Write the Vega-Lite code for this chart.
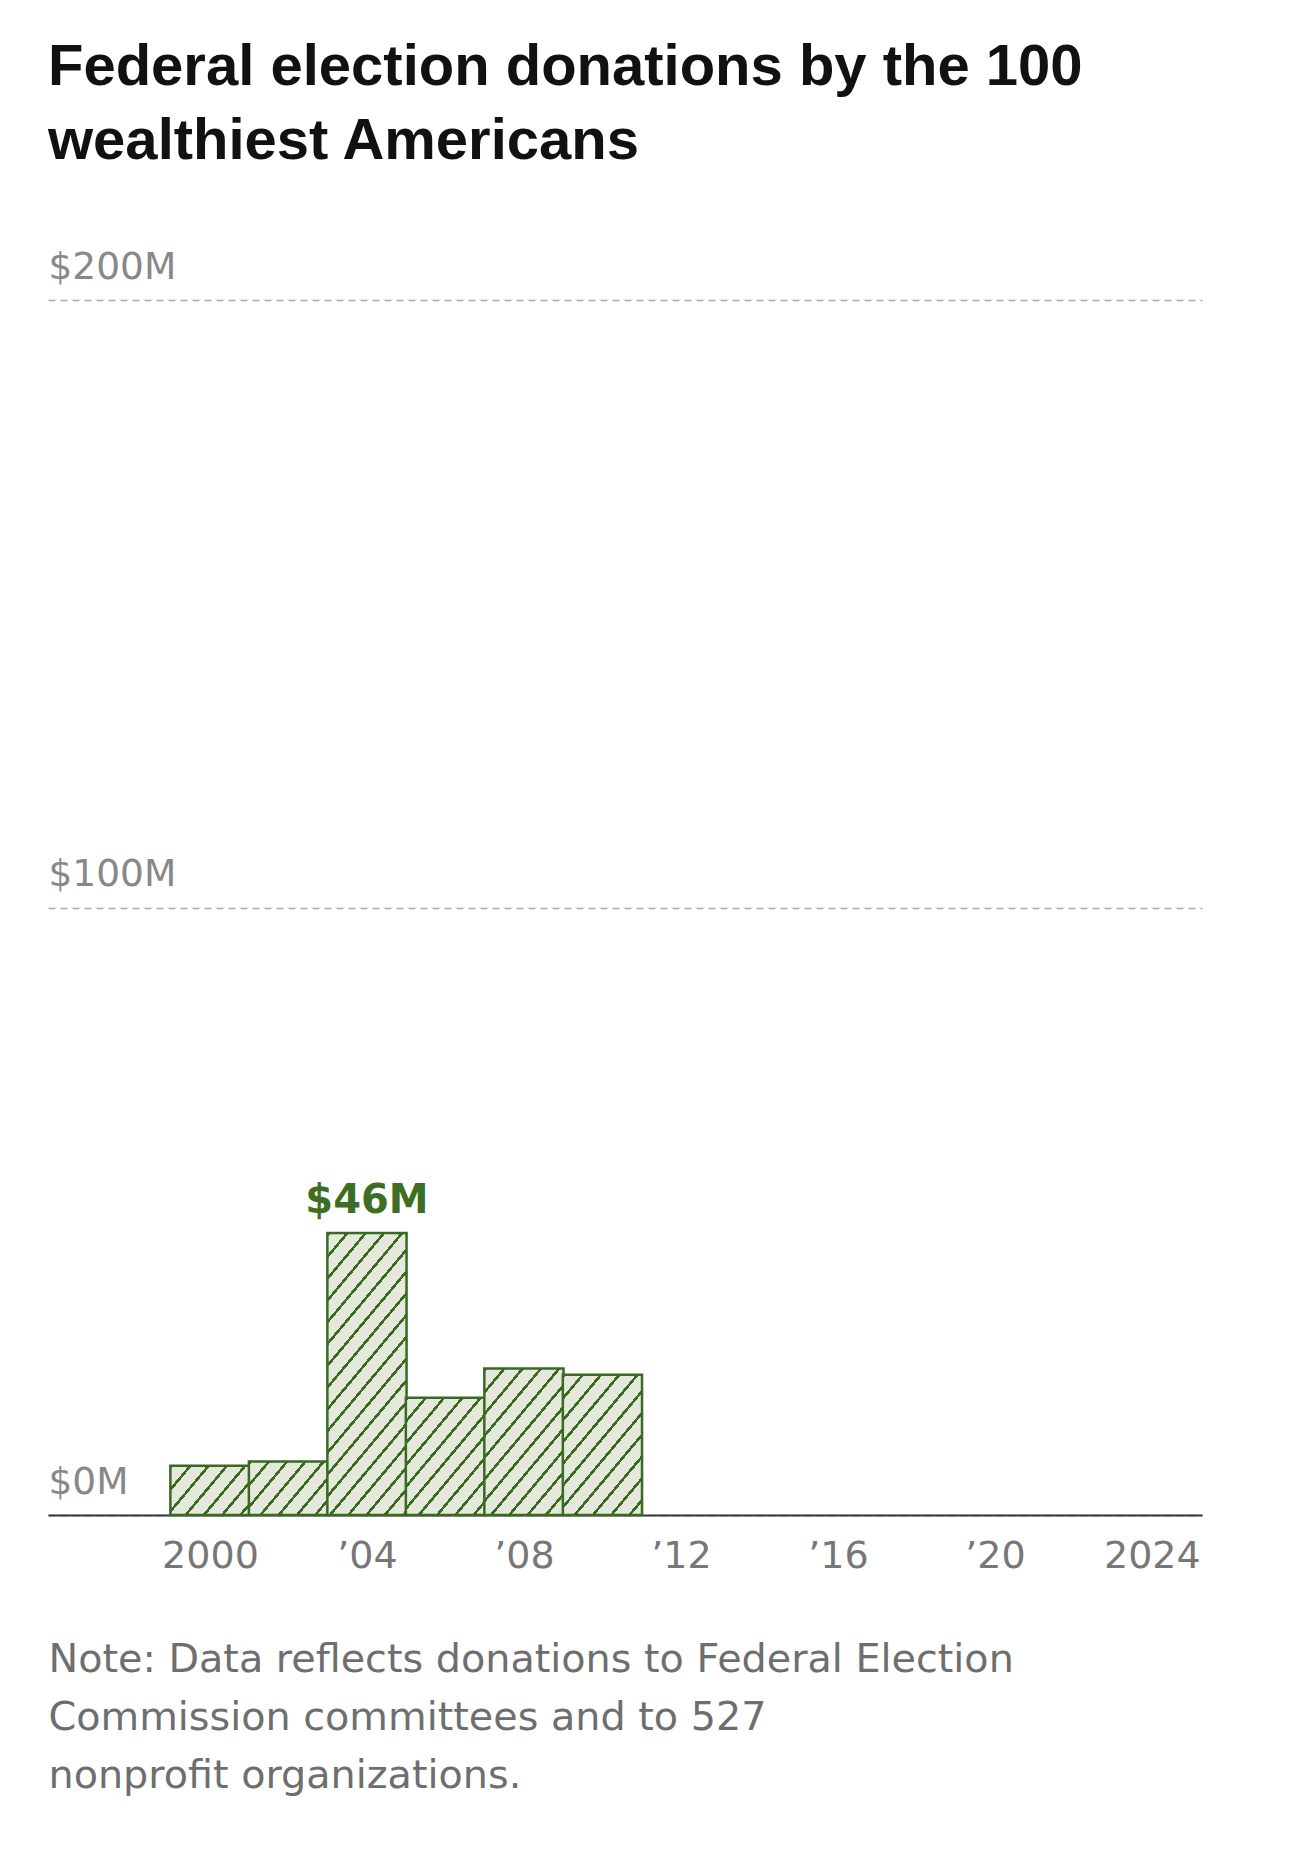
{
  "$schema": "https://vega.github.io/schema/vega-lite/v6.json",
  "width": 1154,
  "height": 1215,
  "autosize": {"type": "none"},
  "padding": {"left": 48, "top": 300, "right": 88, "bottom": 334},
  "background": "#ffffff",
  "config": {"view": {"stroke": null}, "font": "Liberation Sans"},
  "title": {
    "text": ["Federal election donations by the 100", "wealthiest Americans"],
    "anchor": "start",
    "frame": "group",
    "font": "Liberation Sans",
    "fontSize": 58,
    "fontWeight": "bold",
    "color": "#111111",
    "lineHeight": 74,
    "baseline": "alphabetic",
    "offset": 31
  },
  "data": {
    "values": [
      {"year": 2000, "value": 8.1, "label": ""},
      {"year": 2002, "value": 8.8, "label": ""},
      {"year": 2004, "value": 46.4, "label": "$46M"},
      {"year": 2006, "value": 19.3, "label": ""},
      {"year": 2008, "value": 24.1, "label": ""},
      {"year": 2010, "value": 23.1, "label": ""}
    ]
  },
  "encoding": {
    "x": {
      "field": "year",
      "type": "quantitative",
      "scale": {"domain": [1996, 2025.15], "nice": false, "zero": false},
      "axis": {
        "values": [2000, 2004, 2008, 2012, 2016, 2020, 2024],
        "labelExpr": "datum.value == 2000 || datum.value == 2024 ? '' + datum.value : '\u2019' + substring('' + datum.value, 2, 4)",
        "labelFont": "DejaVu Sans",
        "labelFontSize": 38,
        "labelColor": "#777777",
        "labelPadding": 22,
        "labelFlush": false,
        "labelOverlap": false,
        "ticks": false,
        "grid": false,
        "domainColor": "#333333",
        "domainWidth": 2,
        "title": ["Note: Data reflects donations to Federal Election", "Commission committees and to 527", "nonprofit organizations."],
        "titleFont": "DejaVu Sans",
        "titleFontSize": 39.7,
        "titleFontWeight": "normal",
        "titleColor": "#6e6e6e",
        "titleLineHeight": 58,
        "titleAnchor": "start",
        "titleAlign": "left",
        "titleBaseline": "alphabetic",
        "titleX": 0,
        "titleY": 156
      }
    },
    "y": {
      "field": "value",
      "type": "quantitative",
      "scale": {"domain": [0, 200], "nice": false},
      "axis": {
        "values": [0, 100, 200],
        "labelExpr": "'$' + datum.value + 'M'",
        "labelFont": "DejaVu Sans",
        "labelFontSize": 37.5,
        "labelColor": "#888888",
        "labelAlign": "left",
        "labelBaseline": "alphabetic",
        "labelPadding": 0,
        "labelOffset": -22,
        "labelOverlap": false,
        "ticks": false,
        "domain": false,
        "grid": true,
        "gridColor": "#aaaaaa",
        "gridWidth": 1.5,
        "gridDash": [7, 5],
        "title": null
      }
    }
  },
  "layer": [
    {
      "transform": [{"filter": "datum.year == 2000"}],
      "mark": {"type": "bar", "width": 79.2, "stroke": "#3a6a22", "strokeWidth": 2.5,
        "fill": {"gradient": "linear", "x1": 0, "y1": 0, "x2": 3.2655, "y2": 1.7030, "stops": [
          {"offset":0,"color":"#3a6a22"},{"offset":0.0103,"color":"#3a6a22"},{"offset":0.0103,"color":"#e4e9dc"},{"offset":0.0556,"color":"#e4e9dc"},
          {"offset":0.0556,"color":"#3a6a22"},{"offset":0.0659,"color":"#3a6a22"},{"offset":0.0659,"color":"#e4e9dc"},{"offset":0.1111,"color":"#e4e9dc"},
          {"offset":0.1111,"color":"#3a6a22"},{"offset":0.1214,"color":"#3a6a22"},{"offset":0.1214,"color":"#e4e9dc"},{"offset":0.1667,"color":"#e4e9dc"},
          {"offset":0.1667,"color":"#3a6a22"},{"offset":0.1770,"color":"#3a6a22"},{"offset":0.1770,"color":"#e4e9dc"},{"offset":0.2222,"color":"#e4e9dc"},
          {"offset":0.2222,"color":"#3a6a22"},{"offset":0.2325,"color":"#3a6a22"},{"offset":0.2325,"color":"#e4e9dc"},{"offset":0.2778,"color":"#e4e9dc"},
          {"offset":0.2778,"color":"#3a6a22"},{"offset":0.2881,"color":"#3a6a22"},{"offset":0.2881,"color":"#e4e9dc"},{"offset":0.3333,"color":"#e4e9dc"},
          {"offset":0.3333,"color":"#3a6a22"},{"offset":0.3436,"color":"#3a6a22"},{"offset":0.3436,"color":"#e4e9dc"},{"offset":0.3889,"color":"#e4e9dc"},
          {"offset":0.3889,"color":"#3a6a22"},{"offset":0.3992,"color":"#3a6a22"},{"offset":0.3992,"color":"#e4e9dc"},{"offset":0.4444,"color":"#e4e9dc"},
          {"offset":0.4444,"color":"#3a6a22"},{"offset":0.4547,"color":"#3a6a22"},{"offset":0.4547,"color":"#e4e9dc"},{"offset":0.5,"color":"#e4e9dc"},
          {"offset":0.5,"color":"#3a6a22"},{"offset":0.5103,"color":"#3a6a22"},{"offset":0.5103,"color":"#e4e9dc"},{"offset":0.5556,"color":"#e4e9dc"},
          {"offset":0.5556,"color":"#3a6a22"},{"offset":0.5659,"color":"#3a6a22"},{"offset":0.5659,"color":"#e4e9dc"},{"offset":0.6111,"color":"#e4e9dc"},
          {"offset":0.6111,"color":"#3a6a22"},{"offset":0.6214,"color":"#3a6a22"},{"offset":0.6214,"color":"#e4e9dc"},{"offset":0.6667,"color":"#e4e9dc"},
          {"offset":0.6667,"color":"#3a6a22"},{"offset":0.6770,"color":"#3a6a22"},{"offset":0.6770,"color":"#e4e9dc"},{"offset":0.7222,"color":"#e4e9dc"},
          {"offset":0.7222,"color":"#3a6a22"},{"offset":0.7325,"color":"#3a6a22"},{"offset":0.7325,"color":"#e4e9dc"},{"offset":0.7778,"color":"#e4e9dc"},
          {"offset":0.7778,"color":"#3a6a22"},{"offset":0.7881,"color":"#3a6a22"},{"offset":0.7881,"color":"#e4e9dc"},{"offset":0.8333,"color":"#e4e9dc"},
          {"offset":0.8333,"color":"#3a6a22"},{"offset":0.8436,"color":"#3a6a22"},{"offset":0.8436,"color":"#e4e9dc"},{"offset":0.8889,"color":"#e4e9dc"},
          {"offset":0.8889,"color":"#3a6a22"},{"offset":0.8992,"color":"#3a6a22"},{"offset":0.8992,"color":"#e4e9dc"},{"offset":0.9444,"color":"#e4e9dc"},
          {"offset":0.9444,"color":"#3a6a22"},{"offset":0.9547,"color":"#3a6a22"},{"offset":0.9547,"color":"#e4e9dc"},{"offset":1,"color":"#e4e9dc"}
        ]}
      }
    },
    {
      "transform": [{"filter": "datum.year == 2002"}],
      "mark": {"type": "bar", "width": 79.2, "stroke": "#3a6a22", "strokeWidth": 2.5,
        "fill": {"gradient": "linear", "x1": 0, "y1": 0, "x2": 3.1431, "y2": 1.7822, "stops": [
          {"offset":0,"color":"#3a6a22"},{"offset":0.0103,"color":"#3a6a22"},{"offset":0.0103,"color":"#e4e9dc"},{"offset":0.0556,"color":"#e4e9dc"},
          {"offset":0.0556,"color":"#3a6a22"},{"offset":0.0659,"color":"#3a6a22"},{"offset":0.0659,"color":"#e4e9dc"},{"offset":0.1111,"color":"#e4e9dc"},
          {"offset":0.1111,"color":"#3a6a22"},{"offset":0.1214,"color":"#3a6a22"},{"offset":0.1214,"color":"#e4e9dc"},{"offset":0.1667,"color":"#e4e9dc"},
          {"offset":0.1667,"color":"#3a6a22"},{"offset":0.1770,"color":"#3a6a22"},{"offset":0.1770,"color":"#e4e9dc"},{"offset":0.2222,"color":"#e4e9dc"},
          {"offset":0.2222,"color":"#3a6a22"},{"offset":0.2325,"color":"#3a6a22"},{"offset":0.2325,"color":"#e4e9dc"},{"offset":0.2778,"color":"#e4e9dc"},
          {"offset":0.2778,"color":"#3a6a22"},{"offset":0.2881,"color":"#3a6a22"},{"offset":0.2881,"color":"#e4e9dc"},{"offset":0.3333,"color":"#e4e9dc"},
          {"offset":0.3333,"color":"#3a6a22"},{"offset":0.3436,"color":"#3a6a22"},{"offset":0.3436,"color":"#e4e9dc"},{"offset":0.3889,"color":"#e4e9dc"},
          {"offset":0.3889,"color":"#3a6a22"},{"offset":0.3992,"color":"#3a6a22"},{"offset":0.3992,"color":"#e4e9dc"},{"offset":0.4444,"color":"#e4e9dc"},
          {"offset":0.4444,"color":"#3a6a22"},{"offset":0.4547,"color":"#3a6a22"},{"offset":0.4547,"color":"#e4e9dc"},{"offset":0.5,"color":"#e4e9dc"},
          {"offset":0.5,"color":"#3a6a22"},{"offset":0.5103,"color":"#3a6a22"},{"offset":0.5103,"color":"#e4e9dc"},{"offset":0.5556,"color":"#e4e9dc"},
          {"offset":0.5556,"color":"#3a6a22"},{"offset":0.5659,"color":"#3a6a22"},{"offset":0.5659,"color":"#e4e9dc"},{"offset":0.6111,"color":"#e4e9dc"},
          {"offset":0.6111,"color":"#3a6a22"},{"offset":0.6214,"color":"#3a6a22"},{"offset":0.6214,"color":"#e4e9dc"},{"offset":0.6667,"color":"#e4e9dc"},
          {"offset":0.6667,"color":"#3a6a22"},{"offset":0.6770,"color":"#3a6a22"},{"offset":0.6770,"color":"#e4e9dc"},{"offset":0.7222,"color":"#e4e9dc"},
          {"offset":0.7222,"color":"#3a6a22"},{"offset":0.7325,"color":"#3a6a22"},{"offset":0.7325,"color":"#e4e9dc"},{"offset":0.7778,"color":"#e4e9dc"},
          {"offset":0.7778,"color":"#3a6a22"},{"offset":0.7881,"color":"#3a6a22"},{"offset":0.7881,"color":"#e4e9dc"},{"offset":0.8333,"color":"#e4e9dc"},
          {"offset":0.8333,"color":"#3a6a22"},{"offset":0.8436,"color":"#3a6a22"},{"offset":0.8436,"color":"#e4e9dc"},{"offset":0.8889,"color":"#e4e9dc"},
          {"offset":0.8889,"color":"#3a6a22"},{"offset":0.8992,"color":"#3a6a22"},{"offset":0.8992,"color":"#e4e9dc"},{"offset":0.9444,"color":"#e4e9dc"},
          {"offset":0.9444,"color":"#3a6a22"},{"offset":0.9547,"color":"#3a6a22"},{"offset":0.9547,"color":"#e4e9dc"},{"offset":1,"color":"#e4e9dc"}
        ]}
      }
    },
    {
      "transform": [{"filter": "datum.year == 2004"}],
      "mark": {"type": "bar", "width": 79.2, "stroke": "#3a6a22", "strokeWidth": 2.5,
        "fill": {"gradient": "linear", "x1": 0, "y1": 0, "x2": 0.41846, "y2": 1.25021, "stops": [
          {"offset":0,"color":"#3a6a22"},{"offset":0.0103,"color":"#3a6a22"},{"offset":0.0103,"color":"#e4e9dc"},{"offset":0.0556,"color":"#e4e9dc"},
          {"offset":0.0556,"color":"#3a6a22"},{"offset":0.0659,"color":"#3a6a22"},{"offset":0.0659,"color":"#e4e9dc"},{"offset":0.1111,"color":"#e4e9dc"},
          {"offset":0.1111,"color":"#3a6a22"},{"offset":0.1214,"color":"#3a6a22"},{"offset":0.1214,"color":"#e4e9dc"},{"offset":0.1667,"color":"#e4e9dc"},
          {"offset":0.1667,"color":"#3a6a22"},{"offset":0.1770,"color":"#3a6a22"},{"offset":0.1770,"color":"#e4e9dc"},{"offset":0.2222,"color":"#e4e9dc"},
          {"offset":0.2222,"color":"#3a6a22"},{"offset":0.2325,"color":"#3a6a22"},{"offset":0.2325,"color":"#e4e9dc"},{"offset":0.2778,"color":"#e4e9dc"},
          {"offset":0.2778,"color":"#3a6a22"},{"offset":0.2881,"color":"#3a6a22"},{"offset":0.2881,"color":"#e4e9dc"},{"offset":0.3333,"color":"#e4e9dc"},
          {"offset":0.3333,"color":"#3a6a22"},{"offset":0.3436,"color":"#3a6a22"},{"offset":0.3436,"color":"#e4e9dc"},{"offset":0.3889,"color":"#e4e9dc"},
          {"offset":0.3889,"color":"#3a6a22"},{"offset":0.3992,"color":"#3a6a22"},{"offset":0.3992,"color":"#e4e9dc"},{"offset":0.4444,"color":"#e4e9dc"},
          {"offset":0.4444,"color":"#3a6a22"},{"offset":0.4547,"color":"#3a6a22"},{"offset":0.4547,"color":"#e4e9dc"},{"offset":0.5,"color":"#e4e9dc"},
          {"offset":0.5,"color":"#3a6a22"},{"offset":0.5103,"color":"#3a6a22"},{"offset":0.5103,"color":"#e4e9dc"},{"offset":0.5556,"color":"#e4e9dc"},
          {"offset":0.5556,"color":"#3a6a22"},{"offset":0.5659,"color":"#3a6a22"},{"offset":0.5659,"color":"#e4e9dc"},{"offset":0.6111,"color":"#e4e9dc"},
          {"offset":0.6111,"color":"#3a6a22"},{"offset":0.6214,"color":"#3a6a22"},{"offset":0.6214,"color":"#e4e9dc"},{"offset":0.6667,"color":"#e4e9dc"},
          {"offset":0.6667,"color":"#3a6a22"},{"offset":0.6770,"color":"#3a6a22"},{"offset":0.6770,"color":"#e4e9dc"},{"offset":0.7222,"color":"#e4e9dc"},
          {"offset":0.7222,"color":"#3a6a22"},{"offset":0.7325,"color":"#3a6a22"},{"offset":0.7325,"color":"#e4e9dc"},{"offset":0.7778,"color":"#e4e9dc"},
          {"offset":0.7778,"color":"#3a6a22"},{"offset":0.7881,"color":"#3a6a22"},{"offset":0.7881,"color":"#e4e9dc"},{"offset":0.8333,"color":"#e4e9dc"},
          {"offset":0.8333,"color":"#3a6a22"},{"offset":0.8436,"color":"#3a6a22"},{"offset":0.8436,"color":"#e4e9dc"},{"offset":0.8889,"color":"#e4e9dc"},
          {"offset":0.8889,"color":"#3a6a22"},{"offset":0.8992,"color":"#3a6a22"},{"offset":0.8992,"color":"#e4e9dc"},{"offset":0.9444,"color":"#e4e9dc"},
          {"offset":0.9444,"color":"#3a6a22"},{"offset":0.9547,"color":"#3a6a22"},{"offset":0.9547,"color":"#e4e9dc"},{"offset":1,"color":"#e4e9dc"}
        ]}
      }
    },
    {
      "transform": [{"filter": "datum.year == 2006"}],
      "mark": {"type": "bar", "width": 79.2, "stroke": "#3a6a22", "strokeWidth": 2.5,
        "fill": {"gradient": "linear", "x1": 0, "y1": 0, "x2": 1.63344, "y2": 2.02894, "stops": [
          {"offset":0,"color":"#3a6a22"},{"offset":0.0103,"color":"#3a6a22"},{"offset":0.0103,"color":"#e4e9dc"},{"offset":0.0556,"color":"#e4e9dc"},
          {"offset":0.0556,"color":"#3a6a22"},{"offset":0.0659,"color":"#3a6a22"},{"offset":0.0659,"color":"#e4e9dc"},{"offset":0.1111,"color":"#e4e9dc"},
          {"offset":0.1111,"color":"#3a6a22"},{"offset":0.1214,"color":"#3a6a22"},{"offset":0.1214,"color":"#e4e9dc"},{"offset":0.1667,"color":"#e4e9dc"},
          {"offset":0.1667,"color":"#3a6a22"},{"offset":0.1770,"color":"#3a6a22"},{"offset":0.1770,"color":"#e4e9dc"},{"offset":0.2222,"color":"#e4e9dc"},
          {"offset":0.2222,"color":"#3a6a22"},{"offset":0.2325,"color":"#3a6a22"},{"offset":0.2325,"color":"#e4e9dc"},{"offset":0.2778,"color":"#e4e9dc"},
          {"offset":0.2778,"color":"#3a6a22"},{"offset":0.2881,"color":"#3a6a22"},{"offset":0.2881,"color":"#e4e9dc"},{"offset":0.3333,"color":"#e4e9dc"},
          {"offset":0.3333,"color":"#3a6a22"},{"offset":0.3436,"color":"#3a6a22"},{"offset":0.3436,"color":"#e4e9dc"},{"offset":0.3889,"color":"#e4e9dc"},
          {"offset":0.3889,"color":"#3a6a22"},{"offset":0.3992,"color":"#3a6a22"},{"offset":0.3992,"color":"#e4e9dc"},{"offset":0.4444,"color":"#e4e9dc"},
          {"offset":0.4444,"color":"#3a6a22"},{"offset":0.4547,"color":"#3a6a22"},{"offset":0.4547,"color":"#e4e9dc"},{"offset":0.5,"color":"#e4e9dc"},
          {"offset":0.5,"color":"#3a6a22"},{"offset":0.5103,"color":"#3a6a22"},{"offset":0.5103,"color":"#e4e9dc"},{"offset":0.5556,"color":"#e4e9dc"},
          {"offset":0.5556,"color":"#3a6a22"},{"offset":0.5659,"color":"#3a6a22"},{"offset":0.5659,"color":"#e4e9dc"},{"offset":0.6111,"color":"#e4e9dc"},
          {"offset":0.6111,"color":"#3a6a22"},{"offset":0.6214,"color":"#3a6a22"},{"offset":0.6214,"color":"#e4e9dc"},{"offset":0.6667,"color":"#e4e9dc"},
          {"offset":0.6667,"color":"#3a6a22"},{"offset":0.6770,"color":"#3a6a22"},{"offset":0.6770,"color":"#e4e9dc"},{"offset":0.7222,"color":"#e4e9dc"},
          {"offset":0.7222,"color":"#3a6a22"},{"offset":0.7325,"color":"#3a6a22"},{"offset":0.7325,"color":"#e4e9dc"},{"offset":0.7778,"color":"#e4e9dc"},
          {"offset":0.7778,"color":"#3a6a22"},{"offset":0.7881,"color":"#3a6a22"},{"offset":0.7881,"color":"#e4e9dc"},{"offset":0.8333,"color":"#e4e9dc"},
          {"offset":0.8333,"color":"#3a6a22"},{"offset":0.8436,"color":"#3a6a22"},{"offset":0.8436,"color":"#e4e9dc"},{"offset":0.8889,"color":"#e4e9dc"},
          {"offset":0.8889,"color":"#3a6a22"},{"offset":0.8992,"color":"#3a6a22"},{"offset":0.8992,"color":"#e4e9dc"},{"offset":0.9444,"color":"#e4e9dc"},
          {"offset":0.9444,"color":"#3a6a22"},{"offset":0.9547,"color":"#3a6a22"},{"offset":0.9547,"color":"#e4e9dc"},{"offset":1,"color":"#e4e9dc"}
        ]}
      }
    },
    {
      "transform": [{"filter": "datum.year == 2008"}],
      "mark": {"type": "bar", "width": 79.2, "stroke": "#3a6a22", "strokeWidth": 2.5,
        "fill": {"gradient": "linear", "x1": 0, "y1": 0, "x2": 1.21892, "y2": 1.89135, "stops": [
          {"offset":0,"color":"#3a6a22"},{"offset":0.0103,"color":"#3a6a22"},{"offset":0.0103,"color":"#e4e9dc"},{"offset":0.0556,"color":"#e4e9dc"},
          {"offset":0.0556,"color":"#3a6a22"},{"offset":0.0659,"color":"#3a6a22"},{"offset":0.0659,"color":"#e4e9dc"},{"offset":0.1111,"color":"#e4e9dc"},
          {"offset":0.1111,"color":"#3a6a22"},{"offset":0.1214,"color":"#3a6a22"},{"offset":0.1214,"color":"#e4e9dc"},{"offset":0.1667,"color":"#e4e9dc"},
          {"offset":0.1667,"color":"#3a6a22"},{"offset":0.1770,"color":"#3a6a22"},{"offset":0.1770,"color":"#e4e9dc"},{"offset":0.2222,"color":"#e4e9dc"},
          {"offset":0.2222,"color":"#3a6a22"},{"offset":0.2325,"color":"#3a6a22"},{"offset":0.2325,"color":"#e4e9dc"},{"offset":0.2778,"color":"#e4e9dc"},
          {"offset":0.2778,"color":"#3a6a22"},{"offset":0.2881,"color":"#3a6a22"},{"offset":0.2881,"color":"#e4e9dc"},{"offset":0.3333,"color":"#e4e9dc"},
          {"offset":0.3333,"color":"#3a6a22"},{"offset":0.3436,"color":"#3a6a22"},{"offset":0.3436,"color":"#e4e9dc"},{"offset":0.3889,"color":"#e4e9dc"},
          {"offset":0.3889,"color":"#3a6a22"},{"offset":0.3992,"color":"#3a6a22"},{"offset":0.3992,"color":"#e4e9dc"},{"offset":0.4444,"color":"#e4e9dc"},
          {"offset":0.4444,"color":"#3a6a22"},{"offset":0.4547,"color":"#3a6a22"},{"offset":0.4547,"color":"#e4e9dc"},{"offset":0.5,"color":"#e4e9dc"},
          {"offset":0.5,"color":"#3a6a22"},{"offset":0.5103,"color":"#3a6a22"},{"offset":0.5103,"color":"#e4e9dc"},{"offset":0.5556,"color":"#e4e9dc"},
          {"offset":0.5556,"color":"#3a6a22"},{"offset":0.5659,"color":"#3a6a22"},{"offset":0.5659,"color":"#e4e9dc"},{"offset":0.6111,"color":"#e4e9dc"},
          {"offset":0.6111,"color":"#3a6a22"},{"offset":0.6214,"color":"#3a6a22"},{"offset":0.6214,"color":"#e4e9dc"},{"offset":0.6667,"color":"#e4e9dc"},
          {"offset":0.6667,"color":"#3a6a22"},{"offset":0.6770,"color":"#3a6a22"},{"offset":0.6770,"color":"#e4e9dc"},{"offset":0.7222,"color":"#e4e9dc"},
          {"offset":0.7222,"color":"#3a6a22"},{"offset":0.7325,"color":"#3a6a22"},{"offset":0.7325,"color":"#e4e9dc"},{"offset":0.7778,"color":"#e4e9dc"},
          {"offset":0.7778,"color":"#3a6a22"},{"offset":0.7881,"color":"#3a6a22"},{"offset":0.7881,"color":"#e4e9dc"},{"offset":0.8333,"color":"#e4e9dc"},
          {"offset":0.8333,"color":"#3a6a22"},{"offset":0.8436,"color":"#3a6a22"},{"offset":0.8436,"color":"#e4e9dc"},{"offset":0.8889,"color":"#e4e9dc"},
          {"offset":0.8889,"color":"#3a6a22"},{"offset":0.8992,"color":"#3a6a22"},{"offset":0.8992,"color":"#e4e9dc"},{"offset":0.9444,"color":"#e4e9dc"},
          {"offset":0.9444,"color":"#3a6a22"},{"offset":0.9547,"color":"#3a6a22"},{"offset":0.9547,"color":"#e4e9dc"},{"offset":1,"color":"#e4e9dc"}
        ]}
      }
    },
    {
      "transform": [{"filter": "datum.year == 2010"}],
      "mark": {"type": "bar", "width": 79.2, "stroke": "#3a6a22", "strokeWidth": 2.5,
        "fill": {"gradient": "linear", "x1": 0, "y1": 0, "x2": 1.29361, "y2": 1.92350, "stops": [
          {"offset":0,"color":"#3a6a22"},{"offset":0.0103,"color":"#3a6a22"},{"offset":0.0103,"color":"#e4e9dc"},{"offset":0.0556,"color":"#e4e9dc"},
          {"offset":0.0556,"color":"#3a6a22"},{"offset":0.0659,"color":"#3a6a22"},{"offset":0.0659,"color":"#e4e9dc"},{"offset":0.1111,"color":"#e4e9dc"},
          {"offset":0.1111,"color":"#3a6a22"},{"offset":0.1214,"color":"#3a6a22"},{"offset":0.1214,"color":"#e4e9dc"},{"offset":0.1667,"color":"#e4e9dc"},
          {"offset":0.1667,"color":"#3a6a22"},{"offset":0.1770,"color":"#3a6a22"},{"offset":0.1770,"color":"#e4e9dc"},{"offset":0.2222,"color":"#e4e9dc"},
          {"offset":0.2222,"color":"#3a6a22"},{"offset":0.2325,"color":"#3a6a22"},{"offset":0.2325,"color":"#e4e9dc"},{"offset":0.2778,"color":"#e4e9dc"},
          {"offset":0.2778,"color":"#3a6a22"},{"offset":0.2881,"color":"#3a6a22"},{"offset":0.2881,"color":"#e4e9dc"},{"offset":0.3333,"color":"#e4e9dc"},
          {"offset":0.3333,"color":"#3a6a22"},{"offset":0.3436,"color":"#3a6a22"},{"offset":0.3436,"color":"#e4e9dc"},{"offset":0.3889,"color":"#e4e9dc"},
          {"offset":0.3889,"color":"#3a6a22"},{"offset":0.3992,"color":"#3a6a22"},{"offset":0.3992,"color":"#e4e9dc"},{"offset":0.4444,"color":"#e4e9dc"},
          {"offset":0.4444,"color":"#3a6a22"},{"offset":0.4547,"color":"#3a6a22"},{"offset":0.4547,"color":"#e4e9dc"},{"offset":0.5,"color":"#e4e9dc"},
          {"offset":0.5,"color":"#3a6a22"},{"offset":0.5103,"color":"#3a6a22"},{"offset":0.5103,"color":"#e4e9dc"},{"offset":0.5556,"color":"#e4e9dc"},
          {"offset":0.5556,"color":"#3a6a22"},{"offset":0.5659,"color":"#3a6a22"},{"offset":0.5659,"color":"#e4e9dc"},{"offset":0.6111,"color":"#e4e9dc"},
          {"offset":0.6111,"color":"#3a6a22"},{"offset":0.6214,"color":"#3a6a22"},{"offset":0.6214,"color":"#e4e9dc"},{"offset":0.6667,"color":"#e4e9dc"},
          {"offset":0.6667,"color":"#3a6a22"},{"offset":0.6770,"color":"#3a6a22"},{"offset":0.6770,"color":"#e4e9dc"},{"offset":0.7222,"color":"#e4e9dc"},
          {"offset":0.7222,"color":"#3a6a22"},{"offset":0.7325,"color":"#3a6a22"},{"offset":0.7325,"color":"#e4e9dc"},{"offset":0.7778,"color":"#e4e9dc"},
          {"offset":0.7778,"color":"#3a6a22"},{"offset":0.7881,"color":"#3a6a22"},{"offset":0.7881,"color":"#e4e9dc"},{"offset":0.8333,"color":"#e4e9dc"},
          {"offset":0.8333,"color":"#3a6a22"},{"offset":0.8436,"color":"#3a6a22"},{"offset":0.8436,"color":"#e4e9dc"},{"offset":0.8889,"color":"#e4e9dc"},
          {"offset":0.8889,"color":"#3a6a22"},{"offset":0.8992,"color":"#3a6a22"},{"offset":0.8992,"color":"#e4e9dc"},{"offset":0.9444,"color":"#e4e9dc"},
          {"offset":0.9444,"color":"#3a6a22"},{"offset":0.9547,"color":"#3a6a22"},{"offset":0.9547,"color":"#e4e9dc"},{"offset":1,"color":"#e4e9dc"}
        ]}
      }
    },
    {
      "mark": {"type": "text", "font": "DejaVu Sans", "fontWeight": "bold", "fontSize": 40, "color": "#3d6e23", "align": "center", "baseline": "alphabetic", "dy": -20},
      "encoding": {"text": {"field": "label"}}
    }
  ]
}
